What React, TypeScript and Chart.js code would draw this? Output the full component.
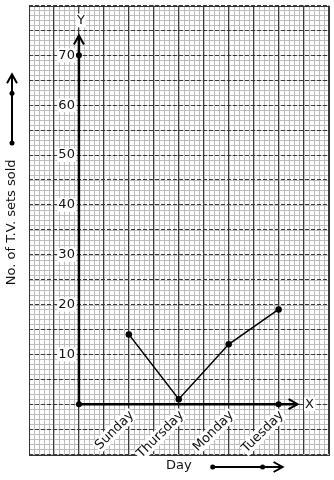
import React, { useEffect, useRef } from "react";
import { Chart, registerables } from "chart.js";

Chart.register(...registerables);

const days = ["Sunday", "Thursday", "Monday", "Tuesday"];
const sold = [14, 1, 12, 19];
const yTickValues = [10, 20, 30, 40, 50, 60, 70];
const xMin = -1;
const xMax = 5;
const yMin = -10;
const yMax = 80;
const yTitle = "No. of T.V. sets sold";
const xTitle = "Day";

const FONT = "DejaVu Sans";

function chevronUp(ctx: CanvasRenderingContext2D, x: number, y: number) {
  ctx.beginPath();
  ctx.moveTo(x - 5, y + 9);
  ctx.lineTo(x, y);
  ctx.lineTo(x + 5, y + 9);
  ctx.stroke();
}
function chevronRight(ctx: CanvasRenderingContext2D, x: number, y: number) {
  ctx.beginPath();
  ctx.moveTo(x - 9, y - 5);
  ctx.lineTo(x, y);
  ctx.lineTo(x - 9, y + 5);
  ctx.stroke();
}
function dot(ctx: CanvasRenderingContext2D, x: number, y: number, r = 3) {
  ctx.beginPath();
  ctx.arc(x, y, r, 0, Math.PI * 2);
  ctx.fill();
}
function labelBg(ctx: CanvasRenderingContext2D, text: string, x: number, y: number, align: CanvasTextAlign) {
  const w = ctx.measureText(text).width;
  let left = x;
  if (align === "right") left = x - w;
  else if (align === "center") left = x - w / 2;
  ctx.fillStyle = "#ffffff";
  ctx.fillRect(left - 1, y - 7, w + 2, 14);
  ctx.fillStyle = "#111";
  ctx.textAlign = align;
  ctx.textBaseline = "middle";
  ctx.fillText(text, x, y);
}

const paperPlugin = {
  id: "paper",
  beforeDraw(chart: any) {
    const { ctx, chartArea, scales } = chart;
    const xs = scales.x;
    const ys = scales.y;
    ctx.save();
    ctx.fillStyle = "#ffffff";
    ctx.fillRect(0, 0, chart.width, chart.height);
    ctx.strokeStyle = "#bdbdbd";
    ctx.lineWidth = 1;
    ctx.beginPath();
    for (let i = 0; i <= (xMax - xMin) * 10; i++) {
      const v = xMin + i / 10;
      const px = Math.round(xs.getPixelForValue(v)) + 0.5;
      ctx.moveTo(px, chartArea.top);
      ctx.lineTo(px, chartArea.bottom);
    }
    for (let v = yMin; v <= yMax; v++) {
      const py = Math.round(ys.getPixelForValue(v)) + 0.5;
      ctx.moveTo(chartArea.left, py);
      ctx.lineTo(chartArea.right, py);
    }
    ctx.stroke();
    ctx.restore();
  },
  beforeDatasetsDraw(chart: any) {
    const { ctx, chartArea, scales } = chart;
    const xs = scales.x;
    const ys = scales.y;
    ctx.save();
    ctx.strokeStyle = "#333";
    ctx.lineWidth = 1;
    ctx.strokeRect(
      Math.round(chartArea.left) + 0.5,
      Math.round(chartArea.top) + 0.5,
      Math.round(chartArea.right - chartArea.left),
      Math.round(chartArea.bottom - chartArea.top)
    );

    const x0 = xs.getPixelForValue(0);
    const y0 = ys.getPixelForValue(0);
    const yTop = ys.getPixelForValue(73.8);
    const xEnd = xs.getPixelForValue(4.36);

    // axes
    ctx.strokeStyle = "#000";
    ctx.fillStyle = "#000";
    ctx.lineWidth = 2.5;
    ctx.beginPath();
    ctx.moveTo(x0, y0);
    ctx.lineTo(x0, yTop);
    ctx.moveTo(x0, y0);
    ctx.lineTo(xEnd, y0);
    ctx.stroke();
    ctx.lineWidth = 2;
    chevronUp(ctx, x0, yTop - 1);
    chevronRight(ctx, xEnd + 1, y0);
    dot(ctx, x0, y0);
    dot(ctx, x0, ys.getPixelForValue(70));
    dot(ctx, xs.getPixelForValue(days.length), y0);

    // tick labels
    ctx.font = `13px "${FONT}"`;
    yTickValues.forEach((v) => {
      labelBg(ctx, String(v), x0 - 4, ys.getPixelForValue(v), "right");
    });
    labelBg(ctx, "Y", x0 + 2, ys.getPixelForValue(77), "center");
    labelBg(ctx, "X", xEnd + 13, y0, "center");

    days.forEach((d, i) => {
      const px = xs.getPixelForValue(i + 1);
      ctx.save();
      ctx.translate(px + 3, y0 + 9);
      ctx.rotate(-Math.PI / 4);
      labelBg(ctx, d, 0, 0, "right");
      ctx.restore();
    });

    // titles outside the paper
    ctx.fillStyle = "#111";
    ctx.font = `13px "${FONT}"`;
    ctx.textAlign = "center";
    ctx.textBaseline = "middle";
    const midX = (xs.getPixelForValue(1) + xs.getPixelForValue(3)) / 2;
    const ty = chartArea.bottom + 12;
    ctx.fillText(xTitle, midX, ty);

    ctx.save();
    ctx.translate(12, ys.getPixelForValue(36.5));
    ctx.rotate(-Math.PI / 2);
    ctx.fillText(yTitle, 0, 0);
    ctx.restore();

    // direction arrows
    ctx.fillStyle = "#000";
    ctx.strokeStyle = "#000";
    ctx.lineWidth = 2;
    const ax1 = xs.getPixelForValue(2.68);
    const ax2 = xs.getPixelForValue(3.68);
    const ax3 = xs.getPixelForValue(4.08);
    ctx.beginPath();
    ctx.moveTo(ax1, ty + 1);
    ctx.lineTo(ax3, ty + 1);
    ctx.stroke();
    chevronRight(ctx, ax3, ty + 1);
    dot(ctx, ax1, ty + 1, 2.5);
    dot(ctx, ax2, ty + 1, 2.5);

    const ly1 = ys.getPixelForValue(52.4);
    const ly2 = ys.getPixelForValue(62.4);
    const ly3 = ys.getPixelForValue(66.2);
    ctx.beginPath();
    ctx.moveTo(12, ly1);
    ctx.lineTo(12, ly3);
    ctx.stroke();
    chevronUp(ctx, 12, ly3);
    dot(ctx, 12, ly1, 2.5);
    dot(ctx, 12, ly2, 2.5);

    ctx.restore();
  },
};

export default function App() {
  const ref = useRef<HTMLCanvasElement>(null);
  useEffect(() => {
    if (!ref.current) return;
    const chart = new Chart(ref.current, {
      type: "line",
      data: {
        datasets: [
          {
            data: days.map((d, i) => ({ x: i + 1, y: sold[i] })),
            borderColor: "#000",
            backgroundColor: "#000",
            borderWidth: 1.5,
            pointRadius: 2.5,
            pointBackgroundColor: "#000",
            pointBorderColor: "#000",
            fill: false,
            tension: 0,
          },
        ],
      },
      options: {
        responsive: false,
        animation: false,
        devicePixelRatio: 1,
        layout: { padding: { left: 29, top: 4, right: 5, bottom: 26 } },
        plugins: { legend: { display: false }, tooltip: { enabled: false } },
        scales: {
          x: {
            type: "linear",
            min: xMin,
            max: xMax,
            ticks: { stepSize: 0.5, display: false },
            grid: { color: "#3a3a3a", lineWidth: 1, drawTicks: false },
            border: { display: false },
          },
          y: {
            type: "linear",
            min: yMin,
            max: yMax,
            ticks: { stepSize: 5, display: false },
            grid: { color: "#3a3a3a", lineWidth: 1, drawTicks: false },
            border: { display: false, dash: [4, 2] },
          },
        },
      },
      plugins: [paperPlugin],
    } as any);
    return () => chart.destroy();
  }, []);
  return (
    <canvas
      ref={ref}
      width={334}
      height={480}
      style={{ position: "absolute", left: 0, top: 0, width: 334, height: 480 }}
    />
  );
}
